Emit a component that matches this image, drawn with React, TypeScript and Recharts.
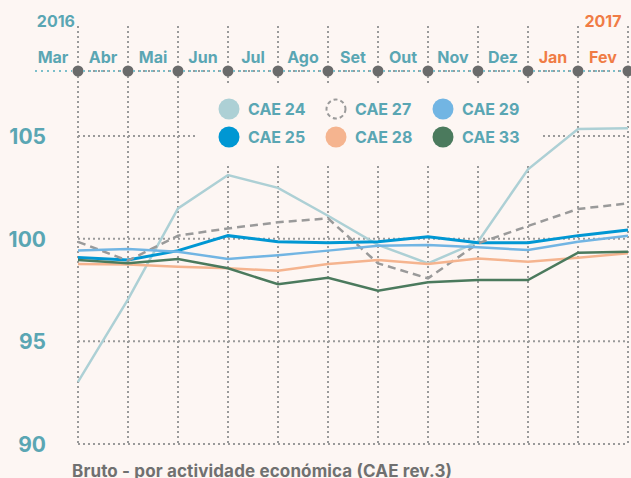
import React from 'react';
import { LineChart, Line, XAxis, YAxis, CartesianGrid, Legend, Customized } from 'recharts';

const months = ['Mar', 'Abr', 'Mai', 'Jun', 'Jul', 'Ago', 'Set', 'Out', 'Nov', 'Dez', 'Jan', 'Fev'];
const monthYears = [2016, 2016, 2016, 2016, 2016, 2016, 2016, 2016, 2016, 2016, 2017, 2017];
const yearLabels = [
  { index: 0, label: '2016', year: 2016 },
  { index: 11, label: '2017', year: 2017 },
];
const yTicks = [90, 95, 100, 105];

const cae24 = [93.03, 97.05, 101.48, 103.1, 102.48, 101.12, 99.7, 98.8, 99.85, 103.38, 105.34, 105.38];
const cae25 = [99.09, 98.96, 99.42, 100.15, 99.85, 99.8, 99.85, 100.1, 99.8, 99.8, 100.15, 100.42];
const cae27 = [99.85, 98.93, 100.15, 100.5, 100.8, 100.99, 98.8, 98.07, 99.77, 100.62, 101.45, 101.72];
const cae28 = [98.77, 98.74, 98.64, 98.56, 98.44, 98.77, 98.96, 98.77, 99.04, 98.88, 99.07, 99.29];
const cae29 = [99.42, 99.5, 99.37, 99.01, 99.2, 99.42, 99.66, 99.69, 99.58, 99.45, 99.85, 100.15];
const cae33 = [98.96, 98.8, 99.01, 98.56, 97.78, 98.1, 97.47, 97.88, 97.99, 97.99, 99.32, 99.37];

const caption = 'Bruto - por actividade económica (CAE rev.3)';

const BG = '#fdf6f3';
const TEAL = '#5aa6b3';
const ORANGE = '#f07c45';
const GRID = '#9a9a9a';
const FONT = 'Inter, "Open Sans", sans-serif';
const PLOT_TOP = 71;
const LEGEND_BOX = { left: 198, top: 85, width: 345, height: 78 };

const series = [
  { key: 'cae24', name: 'CAE 24', color: '#add0d5', width: 2.5, dashed: false },
  { key: 'cae25', name: 'CAE 25', color: '#0097d3', width: 3, dashed: false },
  { key: 'cae27', name: 'CAE 27', color: '#9a9a9a', width: 2.5, dashed: true },
  { key: 'cae28', name: 'CAE 28', color: '#f5b48f', width: 2.5, dashed: false },
  { key: 'cae29', name: 'CAE 29', color: '#72b5e3', width: 2.5, dashed: false },
  { key: 'cae33', name: 'CAE 33', color: '#4b7a5d', width: 2.5, dashed: false },
];

const data = months.map((m, i) => ({
  m,
  cae24: cae24[i],
  cae25: cae25[i],
  cae27: cae27[i],
  cae28: cae28[i],
  cae29: cae29[i],
  cae33: cae33[i],
}));

const TopTick = (props: any) => {
  const { x, index, payload } = props;
  const last = index === months.length - 1;
  const col = monthYears[index] === 2017 ? ORANGE : TEAL;
  const yl = yearLabels.find((y) => y.index === index);
  return (
    <g>
      <line x1={x} x2={x} y1={26} y2={PLOT_TOP} stroke={GRID} strokeWidth={2} strokeDasharray="2 3" />
      <line
        x1={index === 0 ? x - 43 : x - 45}
        x2={x - 6}
        y1={PLOT_TOP}
        y2={PLOT_TOP}
        stroke="#7cbfca"
        strokeWidth={2}
        strokeDasharray="2 4"
      />
      {last && (
        <line x1={x + 6} x2={x + 10} y1={PLOT_TOP} y2={PLOT_TOP} stroke="#7cbfca" strokeWidth={2} strokeDasharray="2 4" />
      )}
      <circle cx={x} cy={PLOT_TOP} r={5.5} fill="#6a6a6a" />
      <text x={x - 25} y={63} textAnchor="middle" fill={col} fontSize={16} fontWeight={700} fontFamily={FONT}>
        {payload.value}
      </text>
      {yl && (
        <text
          x={yl.year === 2016 ? x - 3 : x - 25}
          y={27}
          textAnchor={yl.year === 2016 ? 'end' : 'middle'}
          fill={yl.year === 2017 ? ORANGE : TEAL}
          fontSize={16}
          fontWeight={700}
          fontFamily={FONT}
        >
          {yl.label}
        </text>
      )}
    </g>
  );
};

const LeftTick = (props: any) => {
  const { x, y, payload } = props;
  return (
    <text x={x} y={y} dy={8} textAnchor="end" fill={TEAL} fontSize={21} fontWeight={700} fontFamily={FONT}>
      {payload.value}
    </text>
  );
};

const LegendBackdrop = () => (
  <rect x={LEGEND_BOX.left} y={LEGEND_BOX.top} width={LEGEND_BOX.width} height={LEGEND_BOX.height} fill={BG} />
);

const renderLegend = (props: any) => {
  const { payload } = props;
  return (
    <div
      style={{
        display: 'grid',
        gridTemplateColumns: '107px 107px 107px',
        gridTemplateRows: '27.4px 27.4px',
        gridAutoFlow: 'column',
        paddingLeft: 20,
        paddingTop: 10.6,
        fontFamily: FONT,
      }}
    >
      {payload.map((p: any) => {
        const s = series.find((q) => q.name === p.value);
        const dashed = s && s.dashed;
        return (
          <div key={p.value} style={{ display: 'flex', alignItems: 'center', height: 27.4 }}>
            <svg width={22} height={22} style={{ flex: 'none' }}>
              {dashed ? (
                <circle cx={11} cy={11} r={9.5} fill="none" stroke={p.color} strokeWidth={2} strokeDasharray="4 3" />
              ) : (
                <circle cx={11} cy={11} r={10.5} fill={p.color} />
              )}
            </svg>
            <span style={{ marginLeft: 8, color: TEAL, fontSize: 16, fontWeight: 700, whiteSpace: 'nowrap' }}>
              {p.value}
            </span>
          </div>
        );
      })}
    </div>
  );
};

export default function App() {
  return (
    <div style={{ position: 'fixed', left: 0, top: 0, width: 631, height: 478, background: BG, overflow: 'hidden' }}>
      <LineChart width={631} height={478} data={data} margin={{ top: 0, right: 3, bottom: 34, left: 0 }}>
        <CartesianGrid stroke={GRID} strokeWidth={2} strokeDasharray="2 3" />
        <XAxis
          dataKey="m"
          orientation="top"
          height={PLOT_TOP}
          axisLine={false}
          tickLine={false}
          interval={0}
          tick={<TopTick />}
        />
        <YAxis
          type="number"
          domain={[90, 108.17]}
          ticks={yTicks}
          width={78}
          axisLine={false}
          tickLine={false}
          tickSize={0}
          tickMargin={32}
          allowDataOverflow
          tick={<LeftTick />}
        />
        <Customized component={LegendBackdrop} />
        {series.map((s) => (
          <Line
            key={s.key}
            dataKey={s.key}
            name={s.name}
            stroke={s.color}
            strokeWidth={s.width}
            strokeDasharray={s.dashed ? '8 5' : undefined}
            dot={false}
            activeDot={false}
            isAnimationActive={false}
          />
        ))}
        <Legend
          layout="horizontal"
          verticalAlign="middle"
          align="center"
          content={renderLegend}
          wrapperStyle={{
            position: 'absolute',
            left: LEGEND_BOX.left,
            top: LEGEND_BOX.top,
            width: LEGEND_BOX.width,
            height: LEGEND_BOX.height,
          }}
        />
      </LineChart>
      <svg width={631} height={478} style={{ position: 'absolute', left: 0, top: 0, pointerEvents: 'none' }}>
        <text
          x={72}
          y={476.5}
          textLength={380}
          lengthAdjust="spacing"
          fontSize={17}
          fontWeight={700}
          fill="#707070"
          fontFamily={FONT}
        >
          {caption}
        </text>
      </svg>
    </div>
  );
}
